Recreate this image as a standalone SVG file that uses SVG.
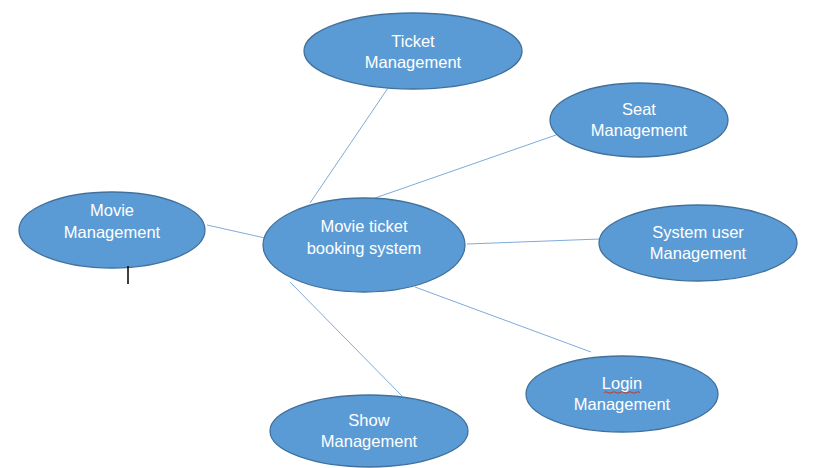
<svg xmlns="http://www.w3.org/2000/svg" width="814" height="468" viewBox="0 0 814 468">
<style>
.n ellipse{fill:#5B9BD5;stroke:#41719C;stroke-width:1.3}
.n text{fill:#fff;font-family:"Liberation Sans",Arial,sans-serif;font-size:16.5px;text-anchor:middle}
.c line{stroke:#7FAAD9;stroke-width:1}
</style>
<rect width="814" height="468" fill="#fff"/>
<g class="c" id="connectors">
<line x1="388" y1="88" x2="310" y2="203"/>
<line x1="556" y1="135" x2="375" y2="198"/>
<line x1="207" y1="225" x2="265" y2="238"/>
<line x1="600" y1="239" x2="467" y2="244"/>
<line x1="591" y1="352" x2="415" y2="287"/>
<line x1="402" y1="396" x2="290" y2="282"/>
</g>
<g class="n" id="ticket"><ellipse cx="413" cy="51" rx="109" ry="38"/><text x="413" y="47">Ticket</text><text x="413" y="68">Management</text></g>
<g class="n" id="seat"><ellipse cx="639" cy="120" rx="89" ry="37"/><text x="639" y="115">Seat</text><text x="639" y="136">Management</text></g>
<g class="n" id="movie"><ellipse cx="112" cy="230" rx="93" ry="38"/><text x="112" y="216">Movie</text><text x="112" y="238">Management</text></g>
<g class="n" id="central"><ellipse cx="364" cy="245" rx="101" ry="47"/><text x="364" y="232">Movie ticket</text><text x="364" y="254">booking system</text></g>
<g class="n" id="sysuser"><ellipse cx="698" cy="243" rx="99" ry="38"/><text x="698" y="238">System user</text><text x="698" y="259">Management</text></g>
<g class="n" id="login"><ellipse cx="622" cy="394" rx="96" ry="38"/><text x="622" y="389">Login</text><text x="622" y="410">Management</text></g>
<g class="n" id="show"><ellipse cx="369" cy="431" rx="99" ry="36"/><text x="369" y="426">Show</text><text x="369" y="447">Management</text></g>
<path d="M604 392.5 q2 -1.5 4 0 t4 0 t4 0 t4 0 t4 0 t4 0 t4 0 t4 0 t4 0" fill="none" stroke="#C0392B" stroke-width="1"/>
<line x1="128" y1="266" x2="128" y2="284" stroke="#000" stroke-width="1.5"/>
</svg>
